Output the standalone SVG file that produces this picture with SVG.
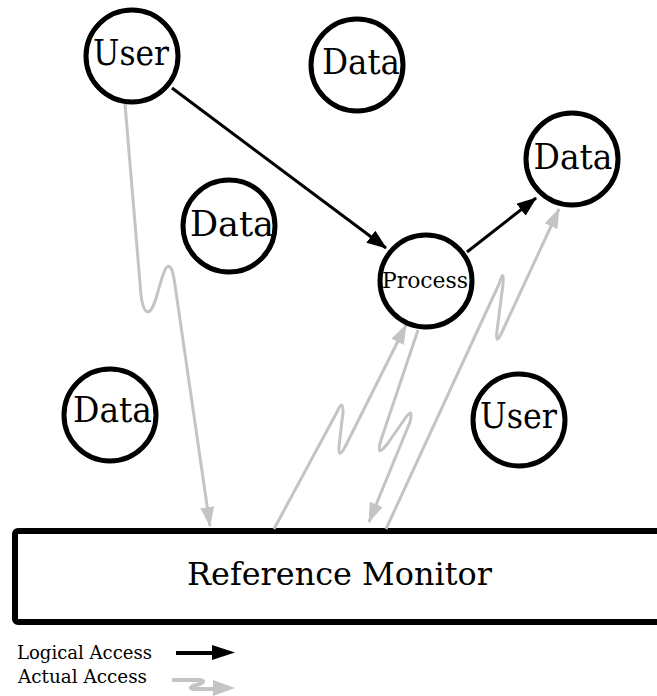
<svg xmlns="http://www.w3.org/2000/svg" width="657" height="696" viewBox="0 0 657 696">
<style>
.node circle{fill:#fff;stroke:#000;stroke-width:5}
.lbl{font-family:"DejaVu Serif","Liberation Serif",serif;fill:#000;text-anchor:middle}
.big{font-size:36px}
.logical{fill:none;stroke:#000;stroke-width:3}
.actual{fill:none;stroke:#c4c4c4;stroke-width:3;stroke-linejoin:round}
</style>
<defs>
<marker id="ab" markerUnits="userSpaceOnUse" viewBox="0 0 20 15" markerWidth="20" markerHeight="15" refX="19" refY="7.5" orient="auto"><path d="M0,0 L20,7.5 L0,15 z" fill="#000"/></marker>
<marker id="ag" markerUnits="userSpaceOnUse" viewBox="0 0 20 14" markerWidth="20" markerHeight="14" refX="19" refY="7" orient="auto"><path d="M0,0 L20,7 L0,14 z" fill="#c4c4c4"/></marker>
</defs>
<rect width="657" height="696" fill="#fff"/>
<g id="monitor">
<rect x="15" y="531" width="700" height="91" rx="3" fill="#fff" stroke="#000" stroke-width="6"/>
<text class="lbl" x="339.5" y="585" font-size="31" textLength="305" lengthAdjust="spacingAndGlyphs">Reference Monitor</text>
</g>
<g id="connectors">
<path class="actual" d="M125,104 L140,283 C142,318 150,320 157,295 C164,270 167,260 172,270 C174,276 175,285 176,292 L210,526" marker-end="url(#ag)"/>
<path class="actual" d="M274,529 L337,412 Q343,398 343,412 L339,446 Q338,460 345,447 L406,325" marker-end="url(#ag)"/>
<path class="actual" d="M418,330 L381,440 Q375,460 388,443 L404,420 Q414,405 410,422 L369,522" marker-end="url(#ag)"/>
<path class="actual" d="M386,529 L499,284 Q504,267 503,284 L497,331 Q495,347 502,332 L559,209" marker-end="url(#ag)"/>
<path class="logical" d="M172,88 L386,248" marker-end="url(#ab)"/>
<path class="logical" d="M467,252 L536,198" marker-end="url(#ab)"/>
</g>
<g id="user1" class="node"><circle cx="132" cy="56" r="46"/><text class="lbl big" x="131" y="65" textLength="76" lengthAdjust="spacingAndGlyphs">User</text></g>
<g id="data1" class="node"><circle cx="357" cy="65" r="46"/><text class="lbl big" x="361" y="74" textLength="78" lengthAdjust="spacingAndGlyphs">Data</text></g>
<g id="data2" class="node"><circle cx="572" cy="159" r="46"/><text class="lbl big" x="573" y="169" textLength="79" lengthAdjust="spacingAndGlyphs">Data</text></g>
<g id="data3" class="node"><circle cx="229" cy="226" r="46"/><text class="lbl big" x="232" y="236" textLength="84" lengthAdjust="spacingAndGlyphs">Data</text></g>
<g id="process" class="node"><circle cx="426" cy="281" r="46"/><text class="lbl" x="425" y="288" font-size="23" textLength="86" lengthAdjust="spacingAndGlyphs">Process</text></g>
<g id="data4" class="node"><circle cx="110" cy="415" r="46"/><text class="lbl big" x="112.5" y="422" textLength="79" lengthAdjust="spacingAndGlyphs">Data</text></g>
<g id="user2" class="node"><circle cx="519" cy="420" r="46"/><text class="lbl big" x="518.5" y="428" textLength="77" lengthAdjust="spacingAndGlyphs">User</text></g>
<g id="legend">
<text class="lbl" x="84.5" y="659" font-size="19" textLength="135" lengthAdjust="spacingAndGlyphs">Logical Access</text>
<text class="lbl" x="82.5" y="683" font-size="19" textLength="129" lengthAdjust="spacingAndGlyphs">Actual Access</text>
<line x1="176" y1="653" x2="214" y2="653" stroke="#000" stroke-width="4"/>
<polygon points="212,645 235,652.5 212,660" fill="#000"/>
<path d="M172,680 L200,680 Q206,681 200,684 L193,686 Q188,689 195,689 L214,689" fill="none" stroke="#c4c4c4" stroke-width="4"/>
<polygon points="213,680 235,688 213,696" fill="#c4c4c4"/>
</g>
</svg>
